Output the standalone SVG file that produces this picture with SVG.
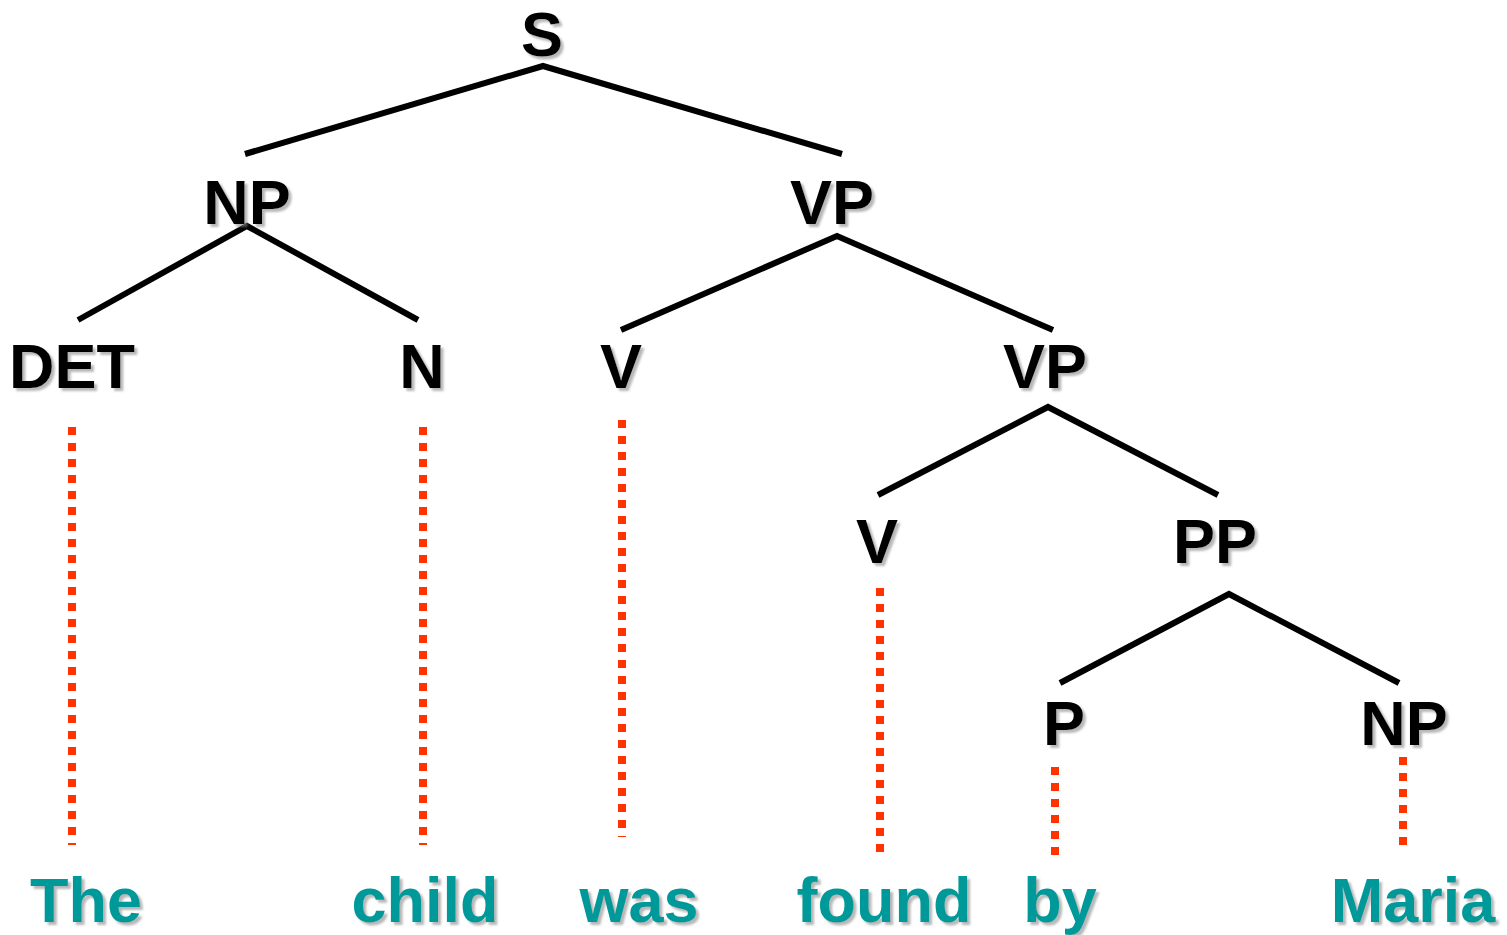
<svg xmlns="http://www.w3.org/2000/svg" width="1507" height="935" viewBox="0 0 1507 935">
<defs>
<filter id="sh" x="-10%" y="-10%" width="130%" height="130%">
<feDropShadow dx="3" dy="3" stdDeviation="0.8" flood-color="#888" flood-opacity="0.6"/>
</filter>
</defs>
<style>
.cat{font-family:"Liberation Sans",Arial,sans-serif;font-weight:bold;font-size:63px;fill:#000;text-anchor:middle;filter:url(#sh)}
.word{font-family:"Liberation Sans",Arial,sans-serif;font-weight:bold;font-size:63px;fill:#009999;text-anchor:middle;filter:url(#sh)}
.br{fill:none;stroke:#000;stroke-width:6;stroke-linejoin:miter}
.dot{stroke:#FF3300;stroke-width:8;stroke-dasharray:8 8;fill:none}
</style>
<rect width="1507" height="935" fill="#fff"/>
<g id="connectors">
<polyline class="br" points="245,154 543,66 842,154"/>
<polyline class="br" points="78,320 247,226 418,320"/>
<polyline class="br" points="621,330 837,236 1053,330"/>
<polyline class="br" points="878,495 1048,407 1218,495"/>
<polyline class="br" points="1060,683 1229,594 1399,683"/>
<line class="dot" x1="72" y1="427" x2="72" y2="845"/>
<line class="dot" x1="423" y1="427" x2="423" y2="845"/>
<line class="dot" x1="622" y1="420" x2="622" y2="837"/>
<line class="dot" x1="880" y1="588" x2="880" y2="852"/>
<line class="dot" x1="1055" y1="767" x2="1055" y2="855"/>
<line class="dot" x1="1403" y1="757" x2="1403" y2="845"/>
</g>
<g id="n-S"><text class="cat" x="542" y="56">S</text></g>
<g id="n-NP"><text class="cat" x="247" y="224">NP</text></g>
<g id="n-VP"><text class="cat" x="832" y="224">VP</text></g>
<g id="n-DET"><text class="cat" x="72" y="388">DET</text></g>
<g id="n-N"><text class="cat" x="422" y="388">N</text></g>
<g id="n-V"><text class="cat" x="621" y="388">V</text></g>
<g id="n-VP2"><text class="cat" x="1045" y="388">VP</text></g>
<g id="n-V2"><text class="cat" x="877" y="563">V</text></g>
<g id="n-PP"><text class="cat" x="1215" y="563">PP</text></g>
<g id="n-P"><text class="cat" x="1064" y="745">P</text></g>
<g id="n-NP2"><text class="cat" x="1404" y="745">NP</text></g>
<g id="w-The"><text class="word" x="86" y="922">The</text></g>
<g id="w-child"><text class="word" x="425" y="922">child</text></g>
<g id="w-was"><text class="word" x="639" y="922">was</text></g>
<g id="w-found"><text class="word" x="884" y="922">found</text></g>
<g id="w-by"><text class="word" x="1060" y="922">by</text></g>
<g id="w-Maria"><text class="word" x="1413" y="922">Maria</text></g>
</svg>
